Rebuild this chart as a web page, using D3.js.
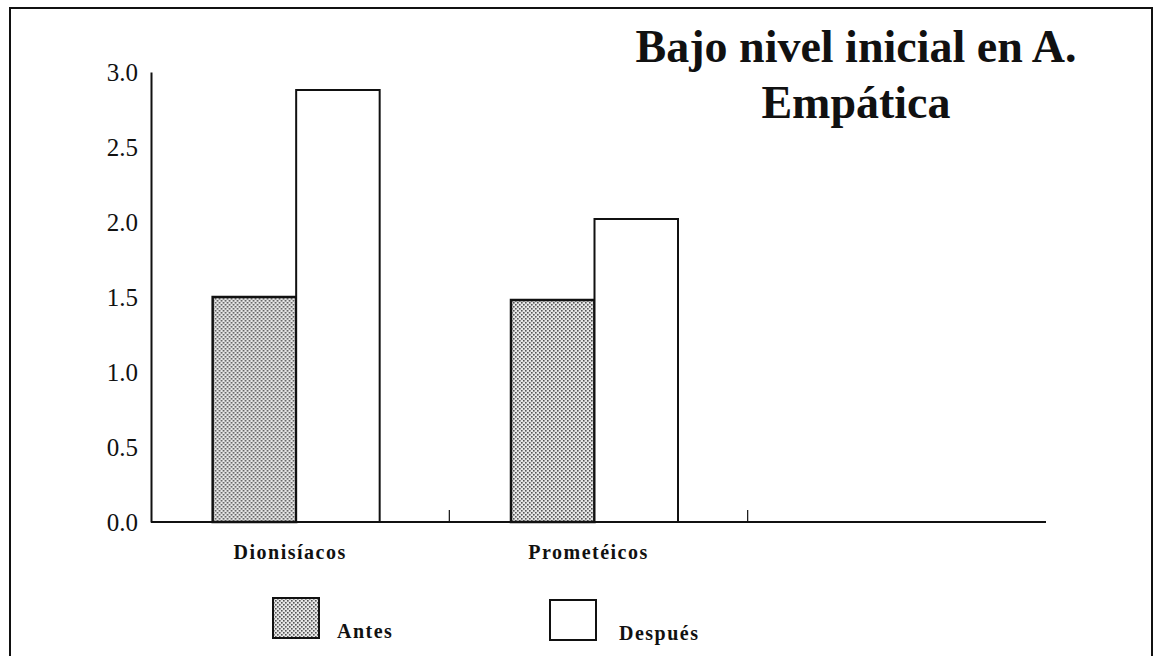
<!DOCTYPE html>
<html>
<head>
<meta charset="utf-8">
<script src="https://cdn.jsdelivr.net/npm/d3@7"></script>
<style>
  body { margin: 0; background: #fff; }
  svg { display: block; font-family: "Liberation Serif", "Times New Roman", serif; }
</style>
</head>
<body>
<div class="viz"></div>
<script>
/* data */
const categories = ["Dionisíacos", "Prometéicos"];
const slots = ["Dionisíacos", "Prometéicos", ""];
const series = ["Antes", "Después"];
const antes = [1.50, 1.48];
const despues = [2.88, 2.02];
const yTicks = [0, 0.5, 1.0, 1.5, 2.0, 2.5, 3.0];
const titleLines = ["Bajo nivel inicial en A.", "Empática"];

const padding = ({
  top: 72,
  bottom: 522,
  left: 151,
  right: 1046
});

var svg = d3.select(".viz")
  .append("svg")
  .attr("width", 1155)
  .attr("height", 656);

/* dotted fill for "Antes" */
var defs = svg.append("defs");
var pat = defs.append("pattern")
  .attr("id", "dots")
  .attr("width", 4)
  .attr("height", 4)
  .attr("patternUnits", "userSpaceOnUse");
pat.append("rect").attr("width", 4).attr("height", 4).attr("fill", "#e6e6e6");
pat.append("rect").attr("x", 0).attr("y", 0).attr("width", 1.6).attr("height", 1.6).attr("fill", "#555");
pat.append("rect").attr("x", 2).attr("y", 2).attr("width", 1.6).attr("height", 1.6).attr("fill", "#555");

/* outer frame */
svg.append("path")
  .attr("d", "M10,670 L10,8 L1152,8 L1152,670")
  .attr("fill", "none")
  .attr("stroke", "#111")
  .attr("stroke-width", 2);

/* scales */
var x0 = d3.scaleBand()
  .domain(slots)
  .range([padding.left, padding.right]);

var x1 = d3.scaleBand()
  .domain(series)
  .range([0, 167]);

var groupOffset = (x0.bandwidth() - 167) / 2 - 4;

var yscale = d3.scaleLinear()
  .domain([0, 3])
  .range([padding.bottom, padding.top]);

/* y axis */
var yaxis = d3.axisLeft(yscale)
  .tickValues(yTicks)
  .tickSize(0)
  .tickPadding(13)
  .tickFormat(d3.format(".1f"));

var yg = svg.append("g")
  .attr("transform", "translate(" + padding.left + ",0)")
  .call(yaxis);
yg.select(".domain").attr("stroke", "#111").attr("stroke-width", 2);
yg.selectAll("text")
  .attr("font-size", 25)
  .attr("font-family", "Liberation Serif, serif")
  .attr("fill", "#111");

/* x axis */
svg.append("line")
  .attr("x1", padding.left)
  .attr("x2", padding.right)
  .attr("y1", padding.bottom)
  .attr("y2", padding.bottom)
  .attr("stroke", "#111")
  .attr("stroke-width", 2);

svg.append("g")
  .selectAll("line")
  .data(slots.slice(0, 2))
  .enter()
  .append("line")
  .attr("x1", (d) => x0(d) + x0.bandwidth())
  .attr("x2", (d) => x0(d) + x0.bandwidth())
  .attr("y1", padding.bottom)
  .attr("y2", padding.bottom - 12)
  .attr("stroke", "#111")
  .attr("stroke-width", 1.2);

/* bars */
var rows = categories.map((c, i) => ({ cat: c, values: [antes[i], despues[i]] }));

var groups = svg.append("g")
  .selectAll("g")
  .data(rows)
  .enter()
  .append("g")
  .attr("transform", (d) => "translate(" + (x0(d.cat) + groupOffset) + ",0)");

groups.selectAll("rect")
  .data((d) => d.values.map((v, j) => ({ s: series[j], v: v })))
  .enter()
  .append("rect")
  .attr("x", (d) => x1(d.s))
  .attr("y", (d) => yscale(d.v))
  .attr("width", x1.bandwidth())
  .attr("height", (d) => padding.bottom - yscale(d.v))
  .attr("fill", (d) => d.s === "Antes" ? "url(#dots)" : "#fff")
  .attr("stroke", "#111")
  .attr("stroke-width", (d) => d.s === "Antes" ? 2.5 : 2);

/* category labels */
svg.append("g")
  .selectAll("text")
  .data(categories)
  .enter()
  .append("text")
  .attr("x", (d) => x0(d) + groupOffset + 167 / 2 - 6)
  .attr("y", 559)
  .attr("text-anchor", "middle")
  .attr("font-size", 20)
  .attr("font-weight", "bold")
  .attr("letter-spacing", "1.5px")
  .attr("fill", "#111")
  .text((d) => d);

/* title */
svg.append("g")
  .selectAll("text")
  .data(titleLines)
  .enter()
  .append("text")
  .attr("x", 856)
  .attr("y", (d, i) => 62 + i * 56)
  .attr("text-anchor", "middle")
  .attr("font-size", 46)
  .attr("font-weight", "bold")
  .attr("fill", "#111")
  .text((d) => d);

/* legend */
var legendPos = [{ x: 273, y: 598 }, { x: 550, y: 600 }];
var legend = svg.append("g")
  .selectAll("g")
  .data(series)
  .enter()
  .append("g")
  .attr("transform", (d, i) => "translate(" + legendPos[i].x + "," + legendPos[i].y + ")");

legend.append("rect")
  .attr("width", 46)
  .attr("height", 40)
  .attr("fill", (d) => d === "Antes" ? "url(#dots)" : "#fff")
  .attr("stroke", "#111")
  .attr("stroke-width", 2);

legend.append("text")
  .attr("x", (d, i) => i === 0 ? 64 : 69)
  .attr("y", 40)
  .attr("font-size", 20)
  .attr("font-weight", "bold")
  .attr("letter-spacing", "1.5px")
  .attr("fill", "#111")
  .text((d) => d);
</script>
</body>
</html>
